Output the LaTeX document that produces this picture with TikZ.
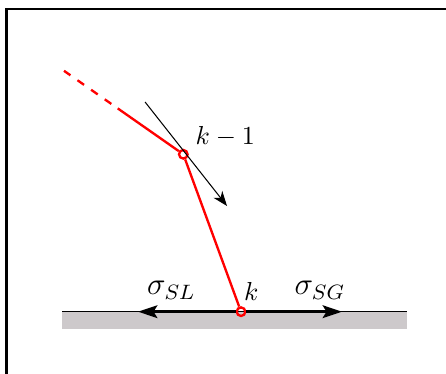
\documentclass[tikz,border=0pt]{standalone}
\usepackage{amsmath,amssymb}
\usetikzlibrary{arrows.meta,positioning,calc}
\definecolor{wallgrey}{RGB}{205,201,203}

\begin{document}
\begin{tikzpicture}[node distance=1mm,
pt/.style={circle,draw=red,line width=0.9pt,inner sep=0pt,minimum size=3.3pt},
bond/.style={red,line width=0.9pt},
force/.style={-{Stealth[length=2.6mm,width=1.7mm,inset=0.5mm]},line width=1.2pt},
tangent/.style={-{Stealth[length=2mm,width=1.5mm,inset=0.6mm]}},
lab/.style={font=\large}]
\useasboundingbox (0,0) rectangle (6.027,5.054);
% frame
\draw[line width=1pt] (0.09,-1) rectangle (7,4.93);
% solid wall
\coordinate (wl) at (0.838,0.842);
\coordinate (wr) at (5.500,0.608);
\fill[wallgrey] (wl) rectangle (wr);
\draw[semithick] (wl) -- (wl -| wr);
% points of the interface
\node[pt] (k) at (3.257,0.842) {};
\node[pt] (km1) at (2.477,2.969) {};
\coordinate (cut) at (1.591,3.589);
\coordinate (tail) at (0.865,4.097);
\coordinate (tA) at (1.960,3.676);
\coordinate (tB) at (3.068,2.270);
\coordinate (slEnd) at (1.865,0.842);
\coordinate (sgEnd) at (4.622,0.842);
% interface
\draw[bond] (k) -- (km1);
\draw[bond] (km1) -- (cut);
\draw[bond,dash pattern=on 3.1pt off 3.3pt,dash phase=3.4pt] (cut) -- (tail);
\draw[tangent] (tA) -- (tB);
% surface tensions
\draw[force] (k) -- (slEnd);
\draw[force] (k) -- (sgEnd);
% labels
\node[above right=-0.8mm and -0.1mm of km1] (lkm1) {$k-1$};
\node[above right=-0.3mm and -1.35mm of k] (lk) {$k$};
\node[lab,above right=0.4mm and 0mm of slEnd] (lsl) {$\sigma_{SL}$};
\node[lab,above left=0.4mm and -1.65mm of sgEnd] (lsg) {$\sigma_{SG}$};
\end{tikzpicture}
\end{document}
